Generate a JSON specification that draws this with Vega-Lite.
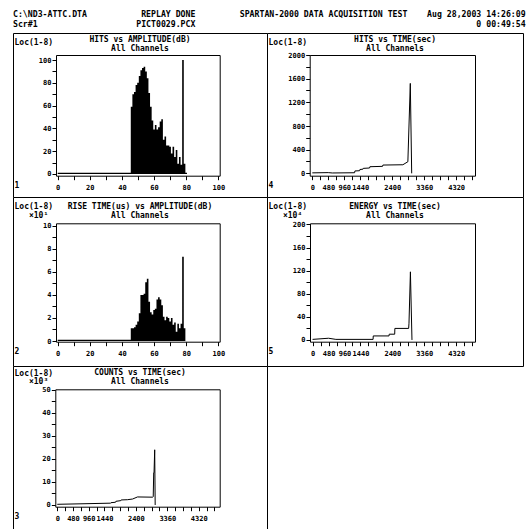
{
"$schema": "https://vega.github.io/schema/vega-lite/v6.json",
"padding": {"left": 12, "top": 10, "right": 0, "bottom": 0},
"background": "white",
"title": {"text": ["C:\\ND3-ATTC.DTA\u00a0\u00a0\u00a0\u00a0\u00a0\u00a0\u00a0\u00a0\u00a0\u00a0\u00a0REPLAY DONE\u00a0\u00a0\u00a0\u00a0\u00a0\u00a0\u00a0\u00a0\u00a0SPARTAN-2000 DATA ACQUISITION TEST\u00a0\u00a0\u00a0\u00a0Aug 28,2003 14:26:09", "Scr#1\u00a0\u00a0\u00a0\u00a0\u00a0\u00a0\u00a0\u00a0\u00a0\u00a0\u00a0\u00a0\u00a0\u00a0\u00a0\u00a0\u00a0\u00a0\u00a0\u00a0PICT0029.PCX\u00a0\u00a0\u00a0\u00a0\u00a0\u00a0\u00a0\u00a0\u00a0\u00a0\u00a0\u00a0\u00a0\u00a0\u00a0\u00a0\u00a0\u00a0\u00a0\u00a0\u00a0\u00a0\u00a0\u00a0\u00a0\u00a0\u00a0\u00a0\u00a0\u00a0\u00a0\u00a0\u00a0\u00a0\u00a0\u00a0\u00a0\u00a0\u00a0\u00a0\u00a0\u00a0\u00a0\u00a0\u00a0\u00a0\u00a0\u00a0\u00a0\u00a0\u00a0\u00a0\u00a0\u00a0\u00a0\u00a0\u00a00 00:49:54"], "anchor": "start", "frame": "group", "font": "DejaVu Sans Mono", "fontSize": 8.2, "fontWeight": "bold", "lineHeight": 10, "offset": 3, "color": "black"},
"config": {
  "view": {"stroke": "black", "strokeWidth": 1, "fill": "white"},
  "axis": {"domainColor": "black", "tickColor": "black", "labelColor": "black", "titleColor": "black", "labelFont": "DejaVu Sans Mono", "labelFontSize": 7, "labelFontWeight": "bold", "titleFont": "DejaVu Sans Mono", "titleFontSize": 8, "titleFontWeight": "bold", "tickSize": 4, "labelPadding": 1, "grid": false, "labelOverlap": false, "labelFlush": false, "titleAngle": 0, "titlePadding": 0, "titleLineHeight": 9},
  "axisBottom": {"labelPadding": 4},
  "title": {"font": "DejaVu Sans Mono", "fontSize": 8, "fontWeight": "bold", "subtitleFont": "DejaVu Sans Mono", "subtitleFontSize": 8, "subtitleFontWeight": "bold", "subtitlePadding": 1, "color": "black", "subtitleColor": "black", "anchor": "middle"}
},
"spacing": 0,
"bounds": "flush",
"columns": 2,
"concat": [
  {"width": 254, "height": 164,
   "title": {"text": "HITS vs AMPLITUDE(dB)", "subtitle": "All Channels", "offset": -20},
   "data": {"values": [
{"a":0,"h":1},{"a":1,"h":1},{"a":2,"h":1},{"a":3,"h":1},{"a":4,"h":1},{"a":5,"h":1},{"a":6,"h":1},{"a":7,"h":1},{"a":8,"h":1},{"a":9,"h":1},
{"a":10,"h":1},{"a":11,"h":1},{"a":12,"h":1},{"a":13,"h":1},{"a":14,"h":1},{"a":15,"h":1},{"a":16,"h":1},{"a":17,"h":1},{"a":18,"h":1},{"a":19,"h":1},
{"a":20,"h":1},{"a":21,"h":1},{"a":22,"h":1},{"a":23,"h":1},{"a":24,"h":1},{"a":25,"h":1},{"a":26,"h":1},{"a":27,"h":1},{"a":28,"h":1},{"a":29,"h":1},
{"a":30,"h":1},{"a":31,"h":1},{"a":32,"h":1},{"a":33,"h":1},{"a":34,"h":1},{"a":35,"h":1},{"a":36,"h":1},{"a":37,"h":1},{"a":38,"h":1},{"a":39,"h":1},
{"a":40,"h":1},{"a":41,"h":1},{"a":42,"h":1},{"a":43,"h":1},{"a":44,"h":1},{"a":45,"h":1},{"a":46,"h":59},{"a":47,"h":70},{"a":48,"h":72},{"a":49,"h":78},
{"a":50,"h":80},{"a":51,"h":86},{"a":52,"h":91},{"a":53,"h":93},{"a":54,"h":94},{"a":55,"h":90},{"a":56,"h":84},{"a":57,"h":71},{"a":58,"h":59},{"a":59,"h":47},
{"a":60,"h":39},{"a":61,"h":43},{"a":62,"h":39},{"a":63,"h":41},{"a":64,"h":46},{"a":65,"h":48},{"a":66,"h":30},{"a":67,"h":33},{"a":68,"h":25},{"a":69,"h":25},
{"a":70,"h":24},{"a":71,"h":18},{"a":72,"h":24},{"a":73,"h":15},{"a":74,"h":21},{"a":75,"h":9},{"a":76,"h":15},{"a":77,"h":8},{"a":78,"h":100},{"a":79,"h":9},
{"a":80,"h":1},{"a":81,"h":0}]},
   "resolve": {"axis": {"x": "independent", "y": "independent"}},
   "layer": [
    {"mark": {"type": "area", "interpolate": "step", "color": "black"},
     "encoding": {
      "x": {"field": "a", "type": "quantitative", "scale": {"domain": [-1.06, 100.87], "range": [43, 206.7], "nice": false, "zero": false},
            "axis": {"orient": "bottom", "offset": -21.3, "values": [0,10,20,30,40,50,60,70,80,90,100], "labelExpr": "datum.value % 20 == 0 ? datum.label : ''", "format": "d", "title": "1", "titleX": 1, "titleY": 14, "titleAlign": "left", "titleBaseline": "bottom"}},
      "y": {"field": "h", "type": "quantitative", "scale": {"domain": [-1.5, 104.4], "range": [142.7, 22], "nice": false, "zero": false},
            "axis": {"orient": "left", "offset": -43, "values": [0,10,20,30,40,50,60,70,80,90,100], "labelExpr": "datum.value % 20 == 0 ? datum.label : ''", "format": "d", "title": "Loc(1-8)", "titleX": -42, "titleY": 5, "titleAlign": "left", "titleBaseline": "top"}}
     }},
    {"mark": {"type": "area", "interpolate": "step", "opacity": 0},
     "encoding": {
      "x": {"field": "a", "type": "quantitative", "scale": {"domain": [-1.06, 100.87], "range": [43, 206.7], "nice": false, "zero": false},
            "axis": {"orient": "top", "offset": -22, "ticks": false, "labels": false, "title": null}},
      "y": {"field": "h", "type": "quantitative", "scale": {"domain": [-1.5, 104.4], "range": [142.7, 22], "nice": false, "zero": false},
            "axis": {"orient": "right", "offset": -47.3, "ticks": false, "labels": false, "title": null}}
     }}
   ]},
  {"width": 256, "height": 164,
   "title": {"text": "HITS vs TIME(sec)", "subtitle": "All Channels", "offset": -20},
   "data": {"values": [
{"t":0,"hits":8},{"t":480,"hits":12},{"t":600,"hits":6},{"t":1270,"hits":10},{"t":1280,"hits":40},{"t":1420,"hits":44},{"t":1430,"hits":65},{"t":1520,"hits":70},{"t":1530,"hits":84},{"t":1720,"hits":90},{"t":1730,"hits":112},{"t":2110,"hits":118},{"t":2120,"hits":140},{"t":2720,"hits":145},{"t":2870,"hits":196},{"t":2943,"hits":1520},{"t":2985,"hits":0}]},
   "resolve": {"axis": {"x": "independent", "y": "independent"}},
   "layer": [
    {"mark": {"type": "line", "color": "black", "strokeWidth": 1},
     "encoding": {
      "x": {"field": "t", "type": "quantitative", "scale": {"domain": [-78, 4886], "range": [42.7, 208], "nice": false, "zero": false},
            "axis": {"orient": "bottom", "offset": -21.3, "values": [0,240,480,720,960,1200,1440,1680,1920,2160,2400,2640,2880,3120,3360,3600,3840,4080,4320,4560,4800], "labelExpr": "indexof([0,480,960,1440,2400,3360,4320], datum.value) >= 0 ? datum.label : ''", "format": "d", "title": "4", "titleX": 1, "titleY": 14, "titleAlign": "left", "titleBaseline": "bottom"}},
      "y": {"field": "hits", "type": "quantitative", "scale": {"domain": [-40, 2000], "range": [142.7, 22], "nice": false, "zero": false},
            "axis": {"orient": "left", "offset": -42.7, "values": [0,200,400,600,800,1000,1200,1400,1600,1800,2000], "labelExpr": "datum.value % 400 == 0 ? datum.label : ''", "format": "d", "title": "Loc(1-8)", "titleX": -41.7, "titleY": 5, "titleAlign": "left", "titleBaseline": "top"}}
     }},
    {"mark": {"type": "line", "opacity": 0},
     "encoding": {
      "x": {"field": "t", "type": "quantitative", "scale": {"domain": [-78, 4886], "range": [42.7, 208], "nice": false, "zero": false},
            "axis": {"orient": "top", "offset": -22, "ticks": false, "labels": false, "title": null}},
      "y": {"field": "hits", "type": "quantitative", "scale": {"domain": [-40, 2000], "range": [142.7, 22], "nice": false, "zero": false},
            "axis": {"orient": "right", "offset": -48, "ticks": false, "labels": false, "title": null}}
     }}
   ]},
  {"width": 254, "height": 169,
   "title": {"text": "RISE TIME(us) vs AMPLITUDE(dB)", "subtitle": "All Channels", "offset": -23},
   "data": {"values": [
{"a":0,"r":0.1},{"a":1,"r":0.1},{"a":2,"r":0.1},{"a":3,"r":0.1},{"a":4,"r":0.1},{"a":5,"r":0.1},{"a":6,"r":0.1},{"a":7,"r":0.1},{"a":8,"r":0.1},{"a":9,"r":0.1},
{"a":10,"r":0.1},{"a":11,"r":0.1},{"a":12,"r":0.1},{"a":13,"r":0.1},{"a":14,"r":0.1},{"a":15,"r":0.1},{"a":16,"r":0.1},{"a":17,"r":0.1},{"a":18,"r":0.1},{"a":19,"r":0.1},
{"a":20,"r":0.1},{"a":21,"r":0.1},{"a":22,"r":0.1},{"a":23,"r":0.1},{"a":24,"r":0.1},{"a":25,"r":0.1},{"a":26,"r":0.1},{"a":27,"r":0.1},{"a":28,"r":0.1},{"a":29,"r":0.1},
{"a":30,"r":0.1},{"a":31,"r":0.1},{"a":32,"r":0.1},{"a":33,"r":0.1},{"a":34,"r":0.1},{"a":35,"r":0.1},{"a":36,"r":0.1},{"a":37,"r":0.1},{"a":38,"r":0.1},{"a":39,"r":0.1},
{"a":40,"r":0.1},{"a":41,"r":0.1},{"a":42,"r":0.1},{"a":43,"r":0.1},{"a":44,"r":0.1},{"a":45,"r":0.1},{"a":46,"r":1.1},{"a":47,"r":1.1},{"a":48,"r":1.2},{"a":49,"r":1.4},
{"a":50,"r":1.7},{"a":51,"r":2.4},{"a":52,"r":4.0},{"a":53,"r":4.0},{"a":54,"r":4.1},{"a":55,"r":5.1},{"a":56,"r":5.4},{"a":57,"r":3.4},{"a":58,"r":2.5},{"a":59,"r":2.3},
{"a":60,"r":2.7},{"a":61,"r":2.8},{"a":62,"r":3.6},{"a":63,"r":3.8},{"a":64,"r":3.6},{"a":65,"r":3.1},{"a":66,"r":2.1},{"a":67,"r":1.8},{"a":68,"r":2.1},{"a":69,"r":2.0},
{"a":70,"r":1.7},{"a":71,"r":2.0},{"a":72,"r":1.4},{"a":73,"r":1.6},{"a":74,"r":0.8},{"a":75,"r":1.5},{"a":76,"r":1.1},{"a":77,"r":1.5},{"a":78,"r":7.3},{"a":79,"r":1.1},
{"a":80,"r":0},{"a":81,"r":0}]},
   "resolve": {"axis": {"x": "independent", "y": "independent"}},
   "layer": [
    {"mark": {"type": "area", "interpolate": "step", "color": "black"},
     "encoding": {
      "x": {"field": "a", "type": "quantitative", "scale": {"domain": [-1.06, 100.87], "range": [43, 206.7], "nice": false, "zero": false},
            "axis": {"orient": "bottom", "offset": -24.3, "values": [0,10,20,30,40,50,60,70,80,90,100], "labelExpr": "datum.value % 20 == 0 ? datum.label : ''", "format": "d", "title": "2", "titleX": 1, "titleY": 14, "titleAlign": "left", "titleBaseline": "bottom"}},
      "y": {"field": "r", "type": "quantitative", "scale": {"domain": [-0.06, 10.21], "range": [144.7, 26.3], "nice": false, "zero": false},
            "axis": {"orient": "left", "offset": -43, "values": [0,1,2,3,4,5,6,7,8,9,10], "labelExpr": "datum.value % 2 == 0 ? datum.label : ''", "format": "d", "title": ["Loc(1-8)", "\u200b\u00a0\u00a0\u00a0×10¹"], "titleX": -42, "titleY": 5, "titleAlign": "left", "titleBaseline": "top"}}
     }},
    {"mark": {"type": "area", "interpolate": "step", "opacity": 0},
     "encoding": {
      "x": {"field": "a", "type": "quantitative", "scale": {"domain": [-1.06, 100.87], "range": [43, 206.7], "nice": false, "zero": false},
            "axis": {"orient": "top", "offset": -26.3, "ticks": false, "labels": false, "title": null}},
      "y": {"field": "r", "type": "quantitative", "scale": {"domain": [-0.06, 10.21], "range": [144.7, 26.3], "nice": false, "zero": false},
            "axis": {"orient": "right", "offset": -47.3, "ticks": false, "labels": false, "title": null}}
     }}
   ]},
  {"width": 256, "height": 169,
   "title": {"text": "ENERGY vs TIME(sec)", "subtitle": "All Channels", "offset": -23},
   "data": {"values": [
{"t":0,"e":1},{"t":480,"e":3},{"t":700,"e":1},{"t":1820,"e":1},{"t":1825,"e":7},{"t":2300,"e":7},{"t":2305,"e":10},{"t":2470,"e":10},{"t":2475,"e":20},{"t":2890,"e":20},{"t":2900,"e":29},{"t":2943,"e":118},{"t":2990,"e":0}]},
   "resolve": {"axis": {"x": "independent", "y": "independent"}},
   "layer": [
    {"mark": {"type": "line", "color": "black", "strokeWidth": 1},
     "encoding": {
      "x": {"field": "t", "type": "quantitative", "scale": {"domain": [-78, 4886], "range": [43, 208], "nice": false, "zero": false},
            "axis": {"orient": "bottom", "offset": -24.3, "values": [0,240,480,720,960,1200,1440,1680,1920,2160,2400,2640,2880,3120,3360,3600,3840,4080,4320,4560,4800], "labelExpr": "indexof([0,480,960,1440,2400,3360,4320], datum.value) >= 0 ? datum.label : ''", "format": "d", "title": "5", "titleX": 1, "titleY": 14, "titleAlign": "left", "titleBaseline": "bottom"}},
      "y": {"field": "e", "type": "quantitative", "scale": {"domain": [-3, 202], "range": [144.7, 26.3], "nice": false, "zero": false},
            "axis": {"orient": "left", "offset": -43, "values": [0,20,40,60,80,100,120,140,160,180,200], "labelExpr": "datum.value % 40 == 0 ? datum.label : ''", "format": "d", "title": ["Loc(1-8)", "\u200b\u00a0\u00a0\u00a0×10⁴"], "titleX": -42, "titleY": 5, "titleAlign": "left", "titleBaseline": "top"}}
     }},
    {"mark": {"type": "line", "opacity": 0},
     "encoding": {
      "x": {"field": "t", "type": "quantitative", "scale": {"domain": [-78, 4886], "range": [43, 208], "nice": false, "zero": false},
            "axis": {"orient": "top", "offset": -26.3, "ticks": false, "labels": false, "title": null}},
      "y": {"field": "e", "type": "quantitative", "scale": {"domain": [-3, 202], "range": [144.7, 26.3], "nice": false, "zero": false},
            "axis": {"orient": "right", "offset": -48, "ticks": false, "labels": false, "title": null}}
     }}
   ]},
 {"width": 254, "height": 166,
  "title": {"text": "COUNTS vs TIME(sec)", "subtitle": "All Channels", "offset": -20},
  "data": {"values": [
{"t":0,"c":0.3},{"t":1000,"c":0.6},{"t":1630,"c":0.8},{"t":1640,"c":1.0},{"t":1780,"c":1.2},{"t":1790,"c":1.6},{"t":1940,"c":1.9},{"t":1950,"c":2.2},{"t":2140,"c":2.3},{"t":2300,"c":2.6},{"t":2450,"c":3.5},{"t":2910,"c":3.4},{"t":2930,"c":3.6},{"t":2945,"c":14},{"t":2955,"c":14},{"t":2975,"c":24},{"t":2990,"c":0}]},
  "resolve": {"axis": {"x": "independent", "y": "independent"}},
  "layer": [
   {"mark": {"type": "line", "color": "black", "strokeWidth": 1},
    "encoding": {
     "x": {"field": "t", "type": "quantitative", "scale": {"domain": [-60, 4960], "range": [42.3, 206.7], "nice": false, "zero": false},
           "axis": {"orient": "bottom", "offset": -25.3, "values": [0,240,480,720,960,1200,1440,1680,1920,2160,2400,2640,2880,3120,3360,3600,3840,4080,4320,4560,4800], "labelExpr": "indexof([0,480,960,1440,2400,3360,4320], datum.value) >= 0 ? datum.label : ''", "format": "d", "title": "3", "titleX": 1, "titleY": 14, "titleAlign": "left", "titleBaseline": "bottom"}},
     "y": {"field": "c", "type": "quantitative", "scale": {"domain": [-0.74, 50.3], "range": [140.7, 23.3], "nice": false, "zero": false},
           "axis": {"orient": "left", "offset": -42.3, "values": [0,5,10,15,20,25,30,35,40,45,50], "labelExpr": "datum.value % 10 == 0 ? datum.label : ''", "format": "d", "title": ["Loc(1-8)", "\u200b\u00a0\u00a0\u00a0×10³"], "titleX": -41.3, "titleY": 3, "titleLineHeight": 8, "titleAlign": "left", "titleBaseline": "top"}}
    }},
   {"mark": {"type": "line", "opacity": 0},
    "encoding": {
     "x": {"field": "t", "type": "quantitative", "scale": {"domain": [-60, 4960], "range": [42.3, 206.7], "nice": false, "zero": false},
           "axis": {"orient": "top", "offset": -23.3, "ticks": false, "labels": false, "title": null}},
     "y": {"field": "c", "type": "quantitative", "scale": {"domain": [-0.74, 50.3], "range": [140.7, 23.3], "nice": false, "zero": false},
           "axis": {"orient": "right", "offset": -47.3, "ticks": false, "labels": false, "title": null}}
    }}
  ]}
]
}
